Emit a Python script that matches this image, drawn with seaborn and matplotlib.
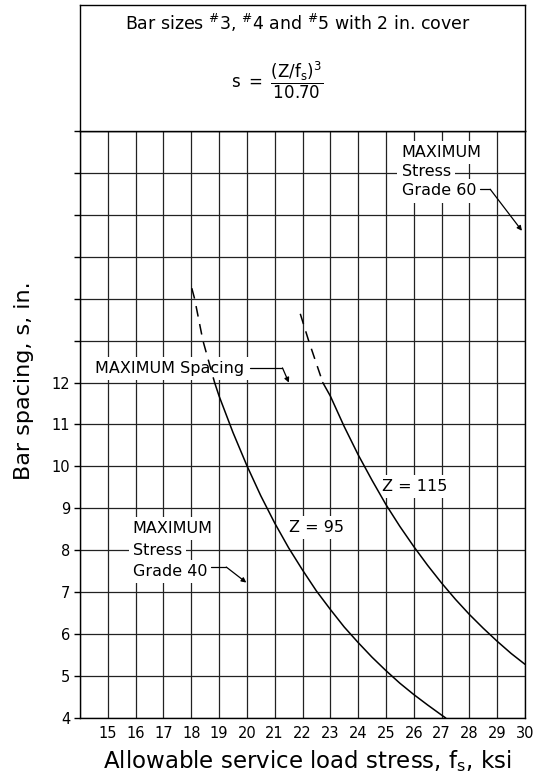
import matplotlib
matplotlib.use("Agg")
import matplotlib.pyplot as plt
import pandas as pd
import seaborn as sns

sns.set_style("white")
plt.rcParams["font.family"] = ["DejaVu Sans"]
plt.rcParams["mathtext.default"] = "regular"
plt.rcParams["text.color"] = "black"
plt.rcParams["axes.labelcolor"] = "black"
plt.rcParams["xtick.color"] = "black"
plt.rcParams["ytick.color"] = "black"

# Values
fs_95_dash = [18.02, 18.12, 18.42, 18.84]
s_95_dash = [14.25, 14.0, 13.0, 12.0]
fs_95 = [18.84, 19.0, 19.5, 20.0, 20.5, 21.0, 21.5, 22.0, 22.5, 23.0, 23.5,
         24.0, 24.5, 25.0, 25.5, 26.0, 26.5, 27.0, 27.15]
s_95 = [12.0, 11.68, 10.81, 10.02, 9.30, 8.65, 8.06, 7.53, 7.03, 6.59, 6.17,
        5.80, 5.45, 5.13, 4.83, 4.56, 4.31, 4.07, 4.0]

fs_115_dash = [21.92, 22.22, 22.73]
s_115_dash = [13.64, 13.0, 12.0]
fs_115 = [22.73, 23.0, 23.5, 24.0, 24.5, 25.0, 25.5, 26.0, 26.5, 27.0, 27.5,
          28.0, 28.5, 29.0, 29.5, 30.0]
s_115 = [12.0, 11.68, 10.95, 10.28, 9.67, 9.09, 8.57, 8.09, 7.64, 7.22, 6.83,
         6.47, 6.14, 5.83, 5.54, 5.28]

x_ticks = list(range(14, 31))
x_labels = [""] + [str(v) for v in range(15, 31)]
y_ticks = list(range(4, 19))
y_labels = [str(v) for v in range(4, 13)] + [""] * 6

segs = [
    ("95d", "dashed", fs_95_dash, s_95_dash),
    ("95", "solid", fs_95, s_95),
    ("115d", "dashed", fs_115_dash, s_115_dash),
    ("115", "solid", fs_115, s_115),
]
df = pd.concat([pd.DataFrame({"fs": x, "s": y, "seg": name, "kind": kind})
                for name, kind, x, y in segs], ignore_index=True)

fig = plt.figure(figsize=(5.38, 7.75), dpi=100)
ax = fig.add_axes([80 / 538, 57 / 775, 445 / 538, 587 / 775])

sns.lineplot(data=df, x="fs", y="s", units="seg", style="kind", estimator=None,
             sort=False, dashes={"solid": "", "dashed": (7, 5)},
             color="black", lw=1.1, legend=False, ax=ax, zorder=5)

ax.set_xlim(14, 30)
ax.set_ylim(4, 18)
ax.set_xticks(x_ticks)
ax.set_xticklabels(x_labels)
ax.set_yticks(y_ticks)
ax.set_yticklabels(y_labels)
ax.tick_params(axis="x", length=0, pad=6, labelsize=10.5)
ax.tick_params(axis="y", length=4, width=1, pad=3, labelsize=10.5, left=True)
ax.grid(True, color="#222222", lw=0.9)
ax.set_axisbelow(True)
for sp in ax.spines.values():
    sp.set_color("black")
    sp.set_linewidth(1)

ax.set_xlabel("Allowable service load stress, $f_s$, ksi", fontsize=16.5)
ax.xaxis.set_label_coords(0.51, -0.052)
ax.set_ylabel("Bar spacing, s, in.", fontsize=16)
ax.yaxis.set_label_coords(-0.104, 0.574)

box = dict(facecolor="white", edgecolor="none", pad=3)
tkw = dict(fontsize=11.5, ha="left", va="center", bbox=box, zorder=4)
arw = dict(arrowstyle="-|>", color="black", lw=0.9, mutation_scale=7,
           shrinkA=0, shrinkB=0)

# maximum spacing
ax.text(14.55, 12.33, "MAXIMUM Spacing", **tkw)
ax.plot([20.1, 21.28], [12.35, 12.35], color="black", lw=0.9, zorder=4)
ax.annotate("", xy=(21.51, 12.0), xytext=(21.28, 12.35), arrowprops=arw)

# grade 40
ax.text(15.9, 8.52, "MAXIMUM", **tkw)
ax.text(15.9, 8.0, "Stress", **tkw)
ax.text(15.9, 7.5, "Grade 40", **tkw)
ax.plot([18.72, 19.26], [7.6, 7.6], color="black", lw=0.9, zorder=4)
ax.annotate("", xy=(19.98, 7.23), xytext=(19.26, 7.6), arrowprops=arw)

# grade 60
ax.text(25.56, 17.48, "MAXIMUM", **tkw)
ax.text(25.56, 17.03, "Stress", **tkw)
ax.text(25.56, 16.57, "Grade 60", **tkw)
ax.plot([28.39, 28.75], [16.61, 16.61], color="black", lw=0.9, zorder=4)
ax.annotate("", xy=(29.89, 15.62), xytext=(28.75, 16.61), arrowprops=arw)

# curve labels
ax.text(22.5, 8.55, "Z = 95", fontsize=11.5, ha="center", va="center",
        bbox=box, zorder=4)
ax.text(26.03, 9.52, "Z = 115", fontsize=11.5, ha="center", va="center",
        bbox=box, zorder=4)

# title box
tb = fig.add_axes([80 / 538, 644 / 775, 445 / 538, 126 / 775])
tb.set_xticks([])
tb.set_yticks([])
for sp in tb.spines.values():
    sp.set_color("black")
    sp.set_linewidth(1)
tb.text(0.4885, 0.86, r"Bar sizes $^{\#}$3, $^{\#}$4 and $^{\#}$5 with 2 in. cover",
        fontsize=12.5, ha="center", va="center", transform=tb.transAxes)
tb.text(0.443, 0.40, r"$s\ =\ \dfrac{(Z/f_s)^3}{10.70}$", fontsize=12,
        ha="center", va="center", transform=tb.transAxes)

fig.savefig("out.png", dpi=100)
